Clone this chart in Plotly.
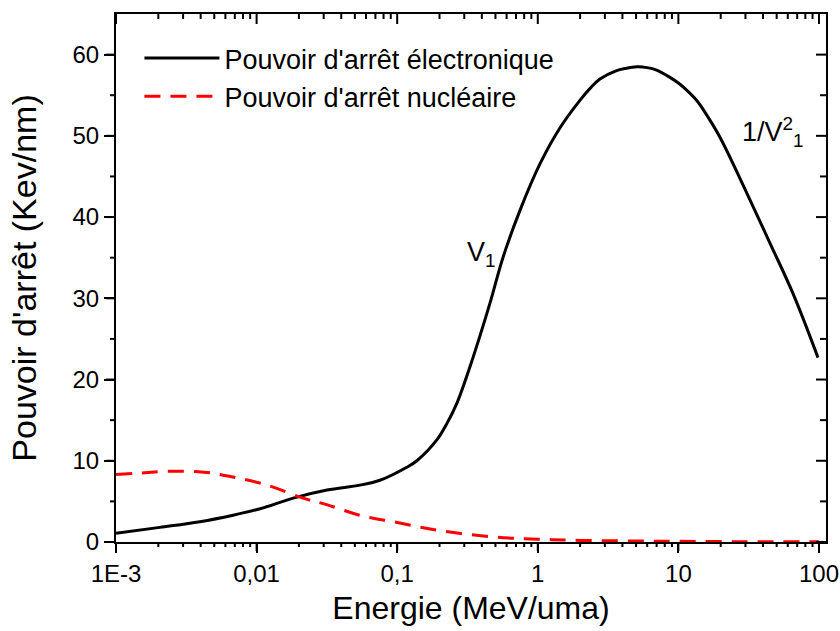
import math
import plotly.graph_objects as go

# Electronic stopping power (keV/nm) vs energy (MeV/uma)
energy_elec = [0.001, 0.00205, 0.00395, 0.0068, 0.0106, 0.0182, 0.0317, 0.0543,
               0.0755, 0.117, 0.138, 0.192, 0.226, 0.266, 0.346, 0.457, 0.565, 0.746,
               1.04, 1.44, 2.0, 2.4, 2.77, 3.6, 4.2, 5.08, 6.0, 7.0, 8.71, 10.0, 11.0,
               13.6, 16.0, 19.8, 30.8, 44.8, 65.3, 98.4]
stop_elec = [1.07, 1.8, 2.5, 3.3, 4.1, 5.4, 6.4, 7.0,
             7.6, 9.2, 10.0, 12.6, 14.6, 17.1, 22.7, 29.4, 35.0, 40.8,
             46.6, 51.0, 54.4, 56.0, 57.0, 58.0, 58.3, 58.5, 58.4, 58.1, 57.2, 56.5, 55.9,
             54.3, 52.5, 49.8, 42.9, 36.8, 30.6, 22.7]

# Nuclear stopping power
energy_nucl = [0.001, 0.0015, 0.0024, 0.0042, 0.0068, 0.0119, 0.0214, 0.0315, 0.054,
               0.1, 0.2, 0.5, 1.0, 2.0, 5.0, 10, 30, 100]
stop_nucl = [8.3, 8.5, 8.7, 8.6, 8.0, 7.0, 5.4, 4.6, 3.3,
             2.4, 1.4, 0.6, 0.35, 0.2, 0.12, 0.08, 0.04, 0.02]

x_tickvals = [0.001, 0.01, 0.1, 1, 10, 100]
x_ticktext = ["1E-3", "0,01", "0,1", "1", "10", "100"]
y_tickvals = [0, 10, 20, 30, 40, 50, 60]
x_minor = [m * 10 ** d for d in range(-3, 2) for m in range(2, 10)]
y_minor = [5, 15, 25, 35, 45, 55]

xr = [-3, 2.05]
yr = [0, 65]
FONT = "Liberation Sans, Arial, sans-serif"
CLEAR = "rgba(0,0,0,0)"

fig = go.Figure()
fig.add_trace(go.Scatter(x=energy_elec, y=stop_elec, mode="lines",
                         line=dict(color="black", width=3, shape="spline", smoothing=1.0),
                         name="Pouvoir d'arrêt électronique"))
fig.add_trace(go.Scatter(x=energy_nucl, y=stop_nucl, mode="lines",
                         line=dict(color="red", width=3, dash="16px,10px", shape="spline", smoothing=1.0),
                         name="Pouvoir d'arrêt nucléaire"))

fig.add_annotation(x=-0.40, y=35.5, xref="x", yref="y", text="V<sub>1</sub>",
                   showarrow=False, font=dict(size=27, color="black", family=FONT))
fig.add_annotation(x=1.67, y=50.5, xref="x", yref="y", text="1/V<sup>2</sup><sub>1</sub>",
                   showarrow=False, font=dict(size=27, color="black", family=FONT))


# tick marks on all four sides (bottom/left outside, top/right inside),
# positioned from the tick-value lists through the axis range
def xfrac(v):
    return (math.log10(v) - xr[0]) / (xr[1] - xr[0])


tick_style = dict(color="black", width=2)
for vals, major in [(x_tickvals, True), (x_minor, False)]:
    for v in vals:
        f = xfrac(v)
        if not 0 <= f <= 1:
            continue
        ln_out = 9 if major else 5
        ln_in = 10 if major else 5
        fig.add_shape(type="line", xref="paper", yref="paper", ysizemode="pixel", yanchor=0,
                      x0=f, x1=f, y0=0, y1=-ln_out, line=tick_style)
        fig.add_shape(type="line", xref="paper", yref="paper", ysizemode="pixel", yanchor=1,
                      x0=f, x1=f, y0=0, y1=-ln_in, line=tick_style)
for vals, major in [(y_tickvals, True), (y_minor, False)]:
    for v in vals:
        ln = 10 if major else 6
        fig.add_shape(type="line", xref="paper", yref="y", xsizemode="pixel", xanchor=0,
                      x0=0, x1=-ln, y0=v, y1=v, line=tick_style)
        fig.add_shape(type="line", xref="paper", yref="y", xsizemode="pixel", xanchor=1,
                      x0=0, x1=-ln, y0=v, y1=v, line=tick_style)

axis_common = dict(gridcolor=CLEAR, zerolinecolor=CLEAR, automargin=False,
                   showline=True, mirror=True, linewidth=2, linecolor="black")

fig.update_layout(
    width=840, height=631,
    margin=dict(l=116, r=14, t=14, b=89),
    paper_bgcolor="white", plot_bgcolor="white",
    font=dict(family=FONT, size=24, color="black"),
    showlegend=True,
    legend=dict(x=0.033, y=0.962, xanchor="left", yanchor="top",
                bgcolor=CLEAR, font=dict(size=27, family=FONT, color="black"),
                itemwidth=75),
    xaxis=dict(type="log", range=xr, tickvals=x_tickvals, ticktext=x_ticktext,
               ticks="outside", ticklen=9, tickwidth=2, tickcolor="black",
               title=dict(text="Energie (MeV/uma)", font=dict(size=32, family=FONT), standoff=11),
               tickfont=dict(size=24, family=FONT), **axis_common),
    yaxis=dict(range=yr, tickvals=y_tickvals, ticks="outside", ticklen=10, tickwidth=2, tickcolor="black",
               title=dict(text="Pouvoir d'arrêt (Kev/nm)", font=dict(size=34, family=FONT), standoff=26),
               tickfont=dict(size=24, family=FONT), **axis_common),
)

fig.write_html("out.html")
